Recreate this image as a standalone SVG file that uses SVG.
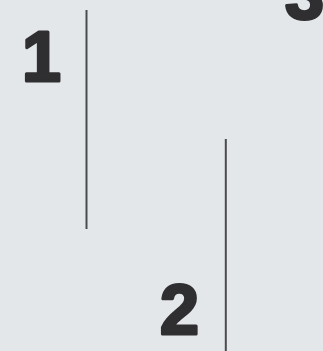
<svg xmlns="http://www.w3.org/2000/svg" width="323" height="351" viewBox="0 0 323 351">
<style>
.num{font-family:"Liberation Sans",Arial,sans-serif;font-weight:bold;font-size:70px;fill:#2f2f31;stroke:#2f2f31;stroke-width:3px;stroke-linejoin:round}
.ln{stroke:#4a4b4e;stroke-width:2;fill:none}
</style>
<rect width="323" height="351" fill="#e4e7ea"/>
<g id="connectors">
<line class="ln" x1="86.5" y1="10" x2="86.5" y2="229"/>
<line class="ln" x1="225.8" y1="139" x2="225.8" y2="351"/>
</g>
<g id="label-1"><text class="num" x="22" y="81">1</text></g>
<g id="label-2"><text class="num" x="160" y="334">2</text></g>
<g id="label-3"><text class="num" x="285" y="19">3</text></g>
</svg>
